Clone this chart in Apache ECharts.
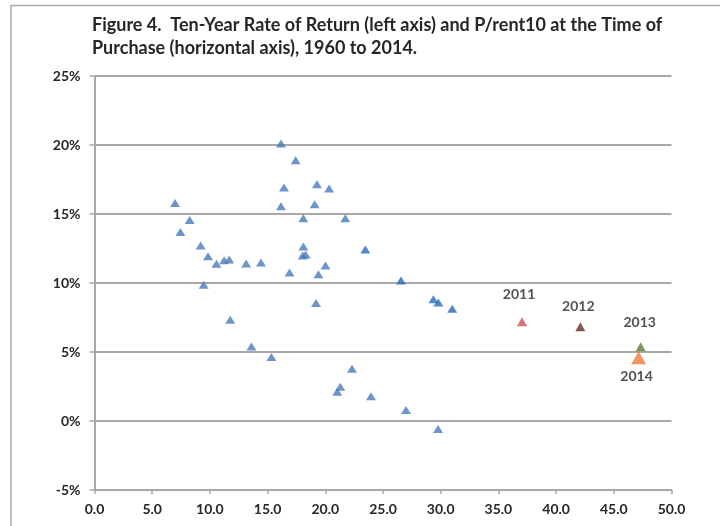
<!DOCTYPE html>
<html>
<head>
<meta charset="utf-8">
<script src="https://cdn.jsdelivr.net/npm/echarts@6/dist/echarts.min.js"></script>
<style>
  html, body { margin: 0; padding: 0; background: #fff; }
  #chart { width: 720px; height: 526px; }
</style>
</head>
<body>
<div id="chart"></div>
<script>
// P/rent10 at purchase (x) vs ten-year rate of return in % (y)
const historyPoints = [
  [6.98, 15.8], [7.44, 13.7], [8.25, 14.57], [9.2, 12.71], [9.84, 11.94],
  [9.46, 9.87], [10.57, 11.4], [11.23, 11.64], [11.67, 11.71], [13.14, 11.41],
  [14.42, 11.48], [11.76, 7.33], [13.6, 5.4], [15.33, 4.63], [16.16, 20.1],
  [17.43, 18.9], [16.42, 16.92], [19.28, 17.15], [20.33, 16.85], [16.16, 15.56],
  [19.08, 15.7], [18.1, 14.69], [21.73, 14.69], [18.1, 12.64], [18.04, 12.0],
  [18.3, 12.07], [16.9, 10.76], [20.02, 11.26], [19.4, 10.64], [19.2, 8.55],
  [22.31, 3.79], [21.3, 2.48], [21.04, 2.12], [23.96, 1.79], [26.99, 0.8],
  [29.77, -0.58]
];
const recentPoints = [
  [23.47, 12.43], [26.56, 10.18], [29.36, 8.83], [29.8, 8.59], [31.0, 8.13]
];
const yearLabels = ['2011', '2012', '2013', '2014'];
const yearPoints = [[37.05, 7.19], [42.1, 6.83], [47.33, 5.38], [47.15, 4.58]];
const yearColors = ['#D34D4D', '#6A2B2B', '#5E7B36', '#EE7B3C'];
const yTicks = [-5, 0, 5, 10, 15, 20, 25];
const xTicks = [0, 5, 10, 15, 20, 25, 30, 35, 40, 45, 50];

const font = 'Lato, sans-serif';
const gridColor = '#A8A8A8';

const chart = echarts.init(document.getElementById('chart'));

const yearSeries = yearLabels.map((year, i) => {
  const below = year === '2014';
  return {
    type: 'scatter',
    symbol: 'triangle',
    symbolSize: below ? [15, 13] : [10, 9],
    itemStyle: { color: yearColors[i] },
    data: [yearPoints[i]],
    label: {
      show: true,
      formatter: year,
      position: below ? 'bottom' : 'top',
      distance: [16, 9, 13, 5][i],
      offset: [[-3, 0], [-2, 0], [-1, 0], [-2, 0]][i],
      color: '#262626',
      fontFamily: font,
      fontWeight: 'bold',
      fontSize: 14
    }
  };
});

chart.setOption({
  animation: false,
  grid: { left: 94.5, right: 48.5, top: 76, bottom: 36 },
  graphic: [
    { type: 'line', shape: { x1: 10.5, y1: 5.5, x2: 720, y2: 5.5 }, style: { stroke: '#A8A8A8', lineWidth: 1.5 } },
    { type: 'line', shape: { x1: 11, y1: 5.5, x2: 11, y2: 526 }, style: { stroke: '#A8A8A8', lineWidth: 1.5 } },
    {
      type: 'text', left: 92, top: 14,
      style: {
        text: 'Figure 4.  Ten-Year Rate of Return (left axis) and P/rent10 at the Time of\nPurchase (horizontal axis), 1960 to 2014.',
        font: 'bold 18px ' + font, fill: '#262626', lineHeight: 23
      }
    }
  ],
  xAxis: [
    {
      type: 'value', min: xTicks[0], max: xTicks[xTicks.length - 1], interval: 5,
      position: 'bottom',
      axisLine: { show: false }, axisTick: { show: false }, splitLine: { show: false },
      axisLabel: {
        margin: 12, color: '#262626', fontFamily: font, fontWeight: 'bold', fontSize: 14,
        formatter: v => v.toFixed(1)
      }
    },
    {
      type: 'value', min: xTicks[0], max: xTicks[xTicks.length - 1], interval: 5,
      position: 'bottom',
      axisLine: { show: true, onZero: true, lineStyle: { color: gridColor, width: 2 } },
      axisTick: { show: true, length: 4, lineStyle: { color: gridColor, width: 1.5 } },
      axisLabel: { show: false }, splitLine: { show: false }
    }
  ],
  yAxis: {
    type: 'value', min: yTicks[0], max: yTicks[yTicks.length - 1], interval: 5,
    axisLine: { show: true, lineStyle: { color: gridColor, width: 2 } },
    axisTick: { show: true, length: 5, lineStyle: { color: gridColor, width: 1.5 } },
    splitLine: { show: true, lineStyle: { color: gridColor, width: 2 } },
    axisLabel: {
      margin: 14, color: '#262626', fontFamily: font, fontWeight: 'bold', fontSize: 14,
      formatter: '{value}%'
    }
  },
  series: [
    {
      type: 'scatter', symbol: 'triangle', symbolSize: [10, 8],
      itemStyle: { color: '#4A7BBB' }, data: historyPoints
    },
    {
      type: 'scatter', symbol: 'triangle', symbolSize: [10, 8],
      itemStyle: { color: '#276BB8' }, data: recentPoints
    },
    ...yearSeries
  ]
});
</script>
</body>
</html>
